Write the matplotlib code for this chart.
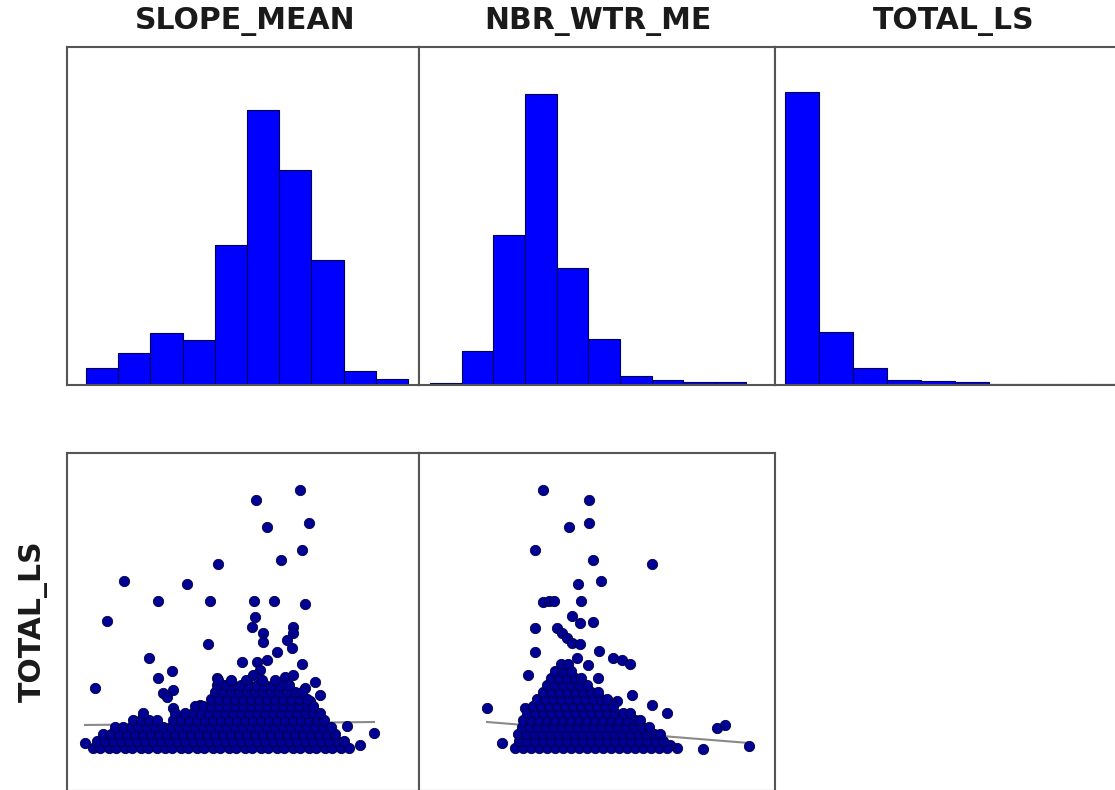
import matplotlib
matplotlib.use('Agg')
import matplotlib.pyplot as plt
import numpy as np

# histogram bins / counts
slope_edges = [1.9, 5.1, 8.3, 11.6, 14.8, 18.0, 21.2, 24.4, 27.7, 30.9, 34.1]
slope_counts = [62, 117, 190, 164, 511, 1000, 781, 456, 51, 22]

nbr_edges = [1.1, 4.25, 7.4, 10.6, 13.75, 16.9, 20.1, 23.25, 26.4, 29.55, 32.7]
nbr_counts = [7, 117, 517, 1000, 403, 159, 31, 17, 10, 9]

ls_edges = [2, 14.9, 27.8, 40.7, 53.6, 66.5, 79.4, 92.3, 105.2, 118.1, 131]
ls_counts = [1000, 182, 58, 17, 14, 10, 3, 3, 2, 2]

# SLOPE_MEAN vs TOTAL_LS : scattered points
slope_ls_outliers = [
    (23.3, 131), (18.9, 126), (24.2, 114.5), (20.0, 112.5), (23.5, 101), (21.4, 96),
    (15.1, 94), (5.7, 85.5), (12.0, 84), (9.1, 75.5), (14.3, 75.5), (18.7, 75.5),
    (20.7, 75.5), (23.8, 74), (4.0, 65.5), (18.8, 67.5), (18.5, 62.5), (22.6, 62.5),
    (19.6, 59.5), (22.6, 59.5), (14.1, 54), (22.0, 56), (19.6, 55), (21.0, 50),
    (22.5, 52), (8.2, 47), (17.5, 45), (19.0, 45), (20.0, 46), (23.5, 44), (19.3, 41),
    (18.6, 38.5), (10.5, 40.5), (9.1, 37), (21.8, 37.5), (22.6, 38.5), (24.8, 35),
    (2.8, 32), (15.0, 37), (9.6, 29.5), (10.6, 31), (10.0, 27.5), (23.8, 32),
    (10.6, 22), (13.3, 23.5), (24.6, 22.5), (7.6, 17.5), (28.0, 13), (30.7, 9.5),
    (29.3, 3.5), (1.8, 4.5), (25.3, 28.5), (24.3, 25.5),
]
# dense part, one row per TOTAL_LS level
slope_ls_rows = [
    (2, [2.6, 3.3, 4.2, 4.9, 5.8, 6.5, 7.4, 8.1, 9.0, 9.8, 10.5, 11.4, 12.1, 13.0, 13.7,
         14.6, 15.3, 16.2, 16.9, 17.8, 18.5, 19.4, 20.1, 21.0, 21.7, 22.6, 23.3, 24.2,
         24.9, 25.8, 26.5, 27.4, 28.2]),
    (5.5, [3.0, 3.8, 4.6, 5.4, 6.2, 7.0, 7.8, 8.6, 9.4, 10.2, 11.0, 11.8, 12.6, 13.4,
           14.2, 15.0, 15.8, 16.6, 17.4, 18.2, 19.0, 19.8, 20.6, 21.4, 22.2, 23.0, 23.8,
           24.6, 25.4, 26.2, 27.0, 27.7]),
    (9, [3.6, 4.4, 5.2, 6.0, 6.8, 7.6, 8.4, 9.2, 10.0, 10.8, 11.6, 12.4, 13.2, 14.0,
         14.8, 15.6, 16.4, 17.2, 18.0, 18.8, 19.6, 20.4, 21.2, 22.0, 22.8, 23.6, 24.4,
         25.2, 26.0, 26.8]),
    (12.5, [4.8, 5.6, 6.4, 7.2, 8.0, 8.8, 9.6, 10.4, 11.2, 12.0, 12.8, 13.6, 14.4, 15.2,
            16.0, 16.8, 17.6, 18.4, 19.2, 20.0, 20.8, 21.6, 22.4, 23.2, 24.0, 24.8,
            25.6, 26.4]),
    (16, [6.6, 7.4, 8.2, 9.0, 10.6, 11.4, 12.2, 13.0, 13.8, 14.6, 15.4, 16.2, 17.0,
          17.8, 18.6, 19.4, 20.2, 21.0, 21.8, 22.6, 23.4, 24.2, 25.0, 25.7]),
    (19.5, [7.6, 10.8, 11.8, 12.6, 13.4, 14.2, 15.0, 15.8, 16.6, 17.4, 18.2, 19.0, 19.8,
            20.6, 21.4, 22.2, 23.0, 23.8, 24.6, 25.3]),
    (23, [12.8, 13.6, 14.4, 15.2, 16.0, 16.8, 17.6, 18.4, 19.2, 20.0, 20.8, 21.6, 22.4,
          23.2, 24.0, 24.6]),
    (26.5, [14.4, 15.2, 16.0, 16.8, 17.6, 18.4, 19.2, 20.0, 20.8, 21.6, 22.4, 23.2, 24.0]),
    (30, [14.8, 15.6, 16.4, 17.2, 18.0, 18.8, 19.6, 20.4, 21.2, 22.0, 22.8, 23.5]),
    (33.5, [15.0, 15.8, 16.6, 17.4, 18.2, 19.0, 19.8, 20.6, 21.4, 22.2]),
    (36, [15.1, 16.4, 17.9, 19.5, 20.8]),
]
# trend line, TOTAL_LS read at the smallest and largest SLOPE_MEAN
slope_trend = [13.5, 15.0]

# NBR_WTR_ME vs TOTAL_LS
nbr_ls_outliers = [
    (12.4, 131), (17.0, 126), (15.0, 112.5), (17.0, 114.5), (11.6, 101), (17.4, 96),
    (23.3, 94), (18.2, 85.5), (15.9, 84), (12.4, 75), (13.0, 75.5), (13.5, 75.5),
    (16.2, 75.5), (15.3, 68), (16.1, 64.5), (17.4, 65), (11.6, 62), (13.8, 62),
    (14.3, 59.5), (14.8, 57), (15.3, 54.5), (16.1, 54), (11.6, 50), (18.0, 50.5),
    (15.8, 47), (19.4, 47), (20.3, 46), (21.1, 44), (16.9, 43.5), (10.9, 38.5),
    (17.9, 37), (21.3, 28.5), (19.8, 25.5), (23.3, 23.5), (24.8, 19.5), (6.8, 22),
    (10.6, 22), (8.3, 4.5), (25.8, 2), (28.4, 1.5), (29.8, 12), (30.6, 13.5),
    (33.0, 3), (25.1, 3.5),
]
nbr_ls_rows = [
    (2, [9.6, 10.4, 11.2, 12.0, 12.8, 13.6, 14.4, 15.2, 16.0, 16.8, 17.6, 18.4, 19.2,
         20.0, 20.8, 21.6, 22.4, 23.2, 24.0, 24.8]),
    (5.5, [10.0, 10.8, 11.6, 12.4, 13.2, 14.0, 14.8, 15.6, 16.4, 17.2, 18.0, 18.8, 19.6,
           20.4, 21.2, 22.0, 22.8, 23.6, 24.4]),
    (9, [9.9, 10.7, 11.5, 12.3, 13.1, 13.9, 14.7, 15.5, 16.3, 17.1, 17.9, 18.7, 19.5,
         20.3, 21.1, 21.9, 22.7, 23.5, 24.1]),
    (12.5, [10.3, 11.1, 11.9, 12.7, 13.5, 14.3, 15.1, 15.9, 16.7, 17.5, 18.3, 19.1, 19.9,
            20.7, 21.5, 22.3, 23.0]),
    (16, [10.4, 11.2, 12.0, 12.8, 13.6, 14.4, 15.2, 16.0, 16.8, 17.6, 18.4, 19.2, 20.0,
          20.8, 21.6, 22.1]),
    (19.5, [10.8, 11.6, 12.4, 13.2, 14.0, 14.8, 15.6, 16.4, 17.2, 18.0, 18.8, 19.6,
            20.4, 21.1]),
    (23, [11.4, 12.2, 13.0, 13.8, 14.6, 15.4, 16.2, 17.0, 17.8, 18.6, 19.4]),
    (26.5, [11.8, 12.6, 13.4, 14.2, 15.0, 15.8, 16.6, 17.4, 18.2, 18.8]),
    (30, [12.4, 13.2, 14.0, 14.8, 15.6, 16.4, 17.2, 17.9]),
    (33.5, [12.8, 13.6, 14.4, 15.2, 16.0, 16.8]),
    (37, [13.2, 14.0, 14.8, 15.6, 16.2]),
    (40.5, [13.6, 14.4, 15.2]),
    (44, [14.2, 14.9]),
]
nbr_trend = [15.0, 4.5]

W, H = 1115, 790


def px_axes(left, top, width, height):
    return fig.add_axes([left / W, 1 - (top + height) / H, width / W, height / H])


def style(ax):
    ax.set_xticks([])
    ax.set_yticks([])
    for s in ax.spines.values():
        s.set_color('#555555')
        s.set_linewidth(1.5)


def points(outliers, rows):
    xs = [p[0] for p in outliers]
    ys = [p[1] for p in outliers]
    for y, row in rows:
        xs += row
        ys += [y] * len(row)
    return np.array(xs), np.array(ys)


fig = plt.figure(figsize=(W / 100, H / 100), dpi=100)

# top row: histograms
hists = [
    (67, 352, slope_edges, slope_counts, (0, 35.2), 1230),
    (419, 356, nbr_edges, nbr_counts, (0, 35.6), 1163),
    (775, 356, ls_edges, ls_counts, (-1.8, 133.3), 1153),
]
for left, width, edges, counts, xlim, ytop in hists:
    ax = px_axes(left, 47, width, 338)
    ax.bar(edges[:-1], counts, width=np.diff(edges), align='edge',
           color='#0000ff', edgecolor='#000055', linewidth=0.8)
    ax.set_xlim(*xlim)
    ax.set_ylim(0, ytop)
    style(ax)

titles = ['SLOPE_MEAN', 'NBR_WTR_ME', 'TOTAL_LS']
for t, cx in zip(titles, [245, 598, 954]):
    fig.text(cx / W, 1 - 22 / H, t, ha='center', va='center',
             fontsize=21.5, fontweight='bold', color='#1a1a1a')

# bottom row: scatter plots with trend line
scatters = [
    (67, 352, slope_ls_outliers, slope_ls_rows, slope_trend, (0, 35.2)),
    (419, 356, nbr_ls_outliers, nbr_ls_rows, nbr_trend, (0, 35.6)),
]
for left, width, outl, rows, trend, xlim in scatters:
    ax = px_axes(left, 453, width, 338)
    x, y = points(outl, rows)
    ax.plot([x.min(), x.max()], trend, color='#8a8a8a', linewidth=1.5, zorder=1)
    ax.scatter(x, y, s=55, c='#000095', edgecolors='#000040', linewidths=0.6, zorder=2)
    ax.set_xlim(*xlim)
    ax.set_ylim(-19.5, 149.5)
    style(ax)

fig.text(33 / W, 1 - 621 / H, 'TOTAL_LS', rotation=90, ha='center', va='center',
         fontsize=21.5, fontweight='bold', color='#1a1a1a')

fig.savefig('out.png', dpi=100)
